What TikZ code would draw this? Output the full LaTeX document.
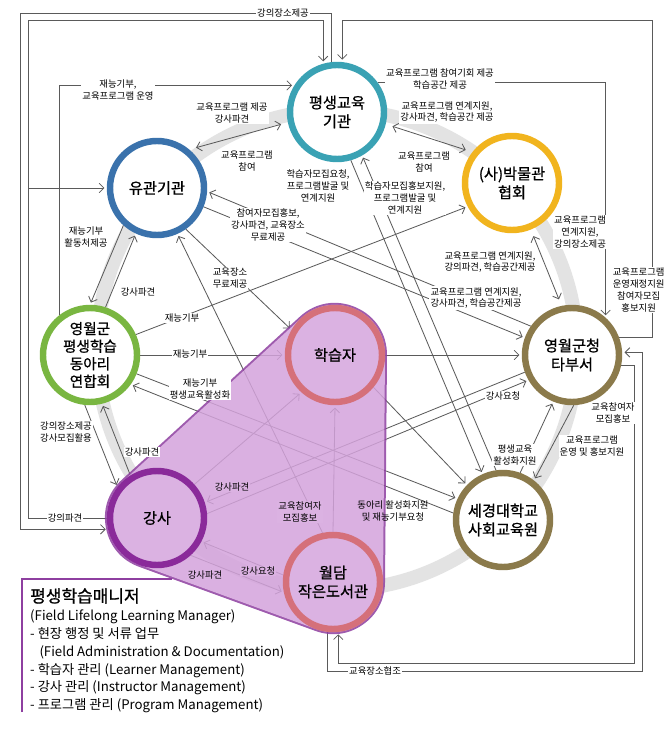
\documentclass[tikz,border=0pt]{standalone}
\usepackage{fontspec}
\setmainfont{Noto Sans CJK KR}
\newfontfamily\orgfont[FakeBold=0.9]{Noto Sans CJK KR}
\usetikzlibrary{arrows.meta}

\definecolor{tealring}{HTML}{3AA2B4}
\definecolor{bluering}{HTML}{3A72AC}
\definecolor{goldring}{HTML}{F1B41E}
\definecolor{greenring}{HTML}{79B641}
\definecolor{pinkring}{HTML}{D5707A}
\definecolor{olivering}{HTML}{8B7A4B}
\definecolor{purplering}{HTML}{8A2A9A}
\definecolor{hullfill}{HTML}{D4A3DC}
\definecolor{hulledge}{HTML}{8E3FA0}
\definecolor{lavfill}{HTML}{DBB2E2}
\definecolor{wirecol}{HTML}{5A5A5A}
\definecolor{bandcol}{HTML}{E3E3E3}

\pgfdeclarelayer{band}
\pgfdeclarelayer{wires}
\pgfdeclarelayer{hull}
\pgfsetlayers{band,wires,hull,main}

\begin{document}
\begin{tikzpicture}
    [
        x=0.03cm, y=-0.03cm,
        org/.style = {circle, draw, line width=5.5pt, minimum size=2.82cm, inner sep=0pt, align=center, fill=white, font=\orgfont\fontsize{13}{16}\selectfont},
        lavorg/.style = {org, fill=lavfill},
        wire/.style = {draw=wirecol, line width=0.7pt, -{Straight Barb[length=4pt, width=8pt]}, shorten >=2pt},
        twoway/.style = {wire, {Straight Barb[length=4pt, width=8pt]}-{Straight Barb[length=4pt, width=8pt]}, shorten <=6pt, shorten >=6pt},
        tag/.style = {fill=white, inner sep=1pt, align=center, font=\fontsize{8}{10}\selectfont},
        ptag/.style = {tag, fill=lavfill},
        gtag/.style = {tag, fill=none},
    ]

    \useasboundingbox (0,0) rectangle (666,736);

    \node[org, draw=tealring] (gyk) at (337,112) {평생교육\\기관};
    \node[org, draw=bluering] (ygk) at (157,188) {유관기관};
    \node[org, draw=goldring] (bmh) at (512,183) {(사)박물관\\협회};
    \node[org, draw=greenring, font=\orgfont\fontsize{12.5}{15}\selectfont] (drh) at (90,355) {영월군\\평생학습\\동아리\\연합회};
    \node[lavorg, draw=pinkring] (hsj) at (335,355) {학습자};
    \node[org, draw=olivering] (ygc) at (572,355) {영월군청\\타부서};
    \node[lavorg, draw=purplering] (gsa) at (157,518) {강사};
    \node[org, draw=olivering] (sgu) at (503,520) {세경대학교\\사회교육원};
    \node[lavorg, draw=pinkring] (wdl) at (333,582) {월담\\작은도서관};

    \begin{pgfonlayer}{band}
        \fill[white] (0,0) rectangle (666,736);
        \draw[line width=0.42cm, draw=bandcol] (337,350) circle[radius=7.2cm];
    \end{pgfonlayer}

    \begin{pgfonlayer}{hull}
        \begin{scope}[transparency group, opacity=0.85]
            \draw[line width=3.12cm, draw=hulledge, line join=round] (hsj.center) -- (gsa.center) -- (wdl.center) -- cycle;
            \filldraw[line width=3cm, draw=hullfill, fill=hullfill, line join=round] (hsj.center) -- (gsa.center) -- (wdl.center) -- cycle;
        \end{scope}
        \draw[draw=hulledge, line width=1.6pt] (22,712) -- (22,579) -- (172,579);
    \end{pgfonlayer}

    \coordinate (brL) at (28,188);

    \begin{pgfonlayer}{wires}
        % frame lines
        \draw[wire] (gyk.96) |- (20,13) |- (gsa.193);
        \draw[wire] (gsa.180) -| (28,20) -| (gyk.106);
        \draw[wire] (brL) -- (ygk.west);
        \draw[wire] (drh.127) |- (gyk.148);
        \draw[wire] (gyk.36) -| (ygc.48);
        \draw[wire] (ygc.20) -| (652,20) -| (gyk.84);
        \draw[wire] (ygc.-12) -| (634,663) -| (wdl.-84);
        \draw[wire] (wdl.-96) |- (642,671) |- (ygc.3);
        % along the ring
        \draw[twoway] (ygk.50) -- (gyk.192);
        \draw[twoway] (gyk.-14) -- (bmh.142);
        \draw[twoway] (bmh.-68) -- (ygc.102);
        \draw[wire] (sgu.70) -- (ygc.-112);
        \draw[wire] (ygc.-88) -- (sgu.52);
        \draw[wire] (drh.72) -- (ygk.-115);
        \draw[wire] (ygk.-132) -- (drh.90);
        \draw[wire] (gsa.122) -- (drh.-76);
        \draw[wire] (drh.-96) -- (gsa.142);
        \draw[wire] (wdl.172) -- (gsa.-28);
        \draw[wire] (gsa.-48) -- (wdl.192);
        % across
        \draw[wire] (drh.east) -- (hsj.west);
        \draw[wire] (drh.24) -- (bmh.-152);
        \draw[wire] (drh.-22) -- (sgu.155);
        \draw[wire] (sgu.172) -- (drh.-36);
        \draw[wire] (hsj.east) -- (ygc.west);
        \draw[wire] (gsa.5) -- (ygc.-150);
        \draw[wire] (ygc.-160) -- (gsa.18);
        \draw[wire] (gsa.42) -- (hsj.-132);
        \draw[wire] (wdl.north) -- (hsj.south);
        \draw[wire] (wdl.102) -- (ygk.-66);
        \draw[wire] (ygk.-55) -- (hsj.150);
        \draw[wire] (ygk.-22) -- (ygc.160);
        \draw[wire] (ygc.145) -- (ygk.-4);
        \draw[wire] (gyk.-74) -- (sgu.114);
        \draw[wire] (sgu.98) -- (gyk.-60);
        \draw[wire] (hsj.-40) -- (sgu.136);
    \end{pgfonlayer}

    \node[tag] (tPlace) at (283,13) {강의장소제공};
    \node[tag] (tSend) at (65,518) {강의파견};
    \node[tag] (tTalent1) at (118,90) {재능기부,\\교육프로그램 운영};
    \node[tag] (tVisit) at (440,79) {교육프로그램 참여기회 제공\\학습공간 제공};
    \node[tag, anchor=east] (tFund) at (666,290) {교육프로그램\\운영재정지원\\참여자모집\\홍보지원};
    \node[tag] (tRecruit) at (613,413) {교육참여자\\모집홍보};
    \node[tag] (tCoop) at (375,671) {교육장소협조};
    \node[tag] (tGyYg) at (232,113) {교육프로그램 제공\\강사파견};
    \node[tag] (tYgGy) at (247,161) {교육프로그램\\참여};
    \node[tag] (tGyBm) at (447,112) {교육프로그램 연계지원,\\강사파견, 학습공간 제공};
    \node[tag] (tBmGy) at (424,162) {교육프로그램\\참여};
    \node[tag] (tBmGc) at (580,232) {교육프로그램\\연계지원,\\강의장소제공};
    \node[tag] (tGcBm) at (490,262) {교육프로그램 연계지원,\\강의파견, 학습공간제공};
    \node[tag] (tSgGc) at (515,455) {평생교육\\활성화지원};
    \node[tag] (tGcSg) at (592,446) {교육프로그램\\운영 및 홍보지원};
    \node[tag] (tYgDr) at (86,237) {재능기부\\활동처제공};
    \node[tag] (tDrYg) at (138,292) {강사파견};
    \node[tag] (tDrGs) at (66,432) {강의장소제공\\강사모집활용};
    \node[tag] (tGsDr) at (142,452) {강사파견};
    \node[ptag] (tGsWd) at (205,575) {강사파견};
    \node[ptag] (tWdGs) at (258,571) {강사요청};
    \node[tag] (tTalent2) at (182,318) {재능기부};
    \node[tag] (tTalent3) at (190,354) {재능기부};
    \node[tag] (tTalent4) at (200,389) {재능기부\\평생교육활성화};
    \node[gtag] (tClub) at (393,511) {동아리 활성화지원\\및 재능기부요청};
    \node[ptag] (tInstr) at (232,487) {강사파견};
    \node[tag] (tReq) at (503,396) {강사요청};
    \node[ptag] (tLearn) at (300,512) {교육참여자\\모집홍보};
    \node[tag] (tFree) at (230,278) {교육장소\\무료제공};
    \node[tag] (tYgGc) at (476,298) {교육프로그램 연계지원,\\강사파견, 학습공간제공};
    \node[tag] (tGcYg) at (268,225) {참여자모집홍보,\\강사파견, 교육장소\\무료제공};
    \node[tag] (tGySg) at (318,186) {학습자모집요청,\\프로그램발굴 및\\연계지원};
    \node[tag] (tSgGy) at (405,198) {학습자모집홍보지원,\\프로그램발굴 및\\연계지원};

    \node[anchor=north west, align=left, inner sep=0pt, font=\fontsize{11.3}{15.3}\selectfont] (mgr) at (30,588)
        {{\orgfont\fontsize{14.5}{17}\selectfont 평생학습매니저}\\(Field Lifelong Learning Manager)\\- 현장 행정 및 서류 업무\\\hspace{0.7em}(Field Administration \& Documentation)\\- 학습자 관리 (Learner Management)\\- 강사 관리 (Instructor Management)\\- 프로그램 관리 (Program Management)};
\end{tikzpicture}
\end{document}
